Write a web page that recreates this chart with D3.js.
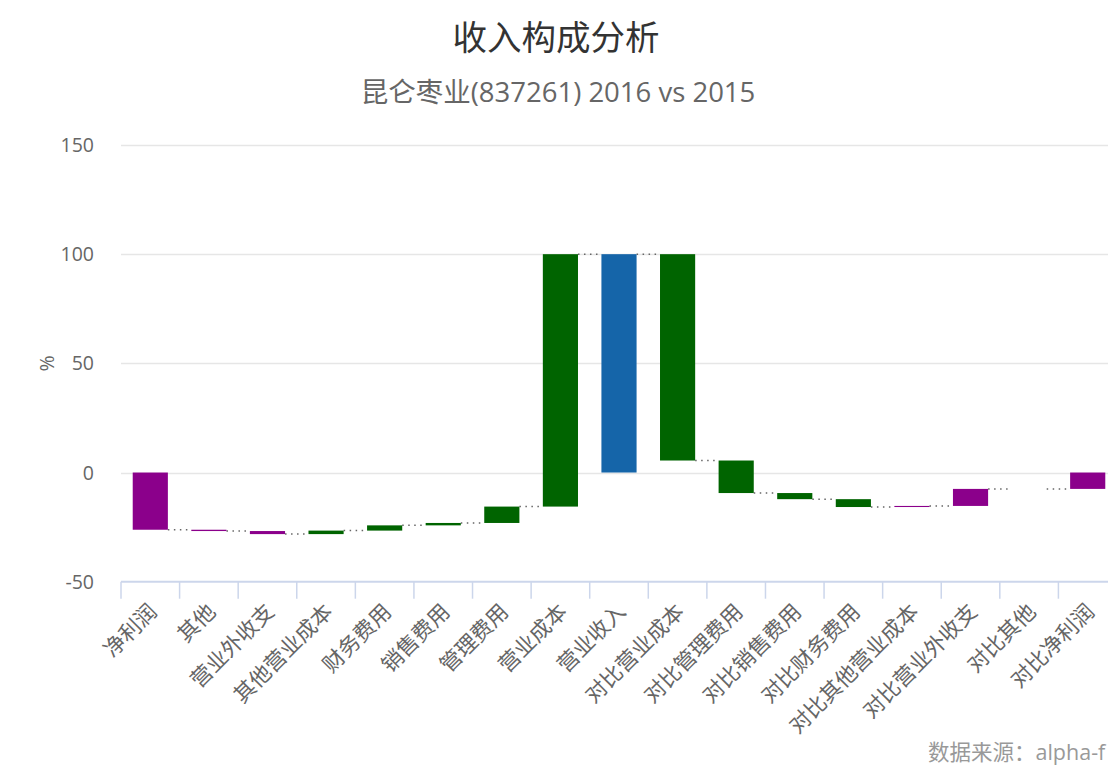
<!DOCTYPE html>
<html>
<head>
<meta charset="utf-8">
<script src="https://cdn.jsdelivr.net/npm/d3@7"></script>
<style>
  html, body { margin: 0; padding: 0; background: #fff; }
  svg { display: block; font-family: "Open Sans", "Noto Sans CJK SC", sans-serif; }
</style>
</head>
<body>
<svg id="chart" width="1108" height="766"></svg>
<script>
// ---- data ----
const titleText = "收入构成分析";
const subtitleText = "昆仑枣业(837261) 2016 vs 2015";
const creditText = "数据来源：alpha-f";
const yAxisTitle = "%";
const categories = ["净利润", "其他", "营业外收支", "其他营业成本", "财务费用", "销售费用", "管理费用", "营业成本", "营业收入",
  "对比营业成本", "对比管理费用", "对比销售费用", "对比财务费用", "对比其他营业成本", "对比营业外收支", "对比其他", "对比净利润"];
// waterfall steps (left to right); null = sum bar (drawn from 0 to running total)
const steps = [-26.2, -0.6, -1.4, 1.6, 2.4, 1.1, 7.5, 115.6, null,
  -94.5, -14.9, -2.8, -3.6, 0.5, 7.8, 0, null];
const kinds = ["profit", "profit", "profit", "cost", "cost", "cost", "cost", "cost", "revenue",
  "cost", "cost", "cost", "cost", "profit", "profit", "profit", "profit"];
const yTicks = [-50, 0, 50, 100, 150];

// ---- layout ----
const W = 1108, H = 766;
const plot = { left: 121, right: 1117, top: 145, bottom: 581.7 };
const kindColor = { profit: "#8b008b", cost: "#006400", revenue: "#1565a9" };

const svg = d3.select("#chart");

const x = d3.scaleBand().domain(categories).range([plot.left, plot.right])
  .paddingInner(0.4).paddingOuter(0.2);
const step = x.step();
const y = d3.scaleLinear().domain([-50, 150]).range([plot.bottom, plot.top]);

// compute waterfall
let cum = 0;
const bars = categories.map((c, i) => {
  const s = steps[i];
  let from, to;
  if (s === null) { from = 0; to = cum; }
  else { from = cum; to = cum + s; cum = to; }
  return { cat: c, from, to, level: cum, kind: kinds[i] };
});

// grid
svg.append("g").selectAll("line").data(yTicks.filter(t => t !== -50)).join("line")
  .attr("x1", plot.left).attr("x2", W)
  .attr("y1", d => Math.round(y(d)) + 0.5).attr("y2", d => Math.round(y(d)) + 0.5)
  .attr("stroke", "#e6e6e6").attr("stroke-width", 1.5);

// y labels
svg.append("g").selectAll("text").data(yTicks).join("text")
  .attr("x", 94).attr("y", d => y(d) + 7)
  .attr("text-anchor", "end").attr("font-size", 19.5).attr("fill", "#666")
  .text(d => d);

// y axis title
svg.append("text")
  .attr("transform", `translate(54, ${y(50)}) rotate(-90)`)
  .attr("text-anchor", "middle").attr("font-size", 19.5).attr("fill", "#666")
  .text(yAxisTitle);

// x axis line & ticks
svg.append("line").attr("x1", plot.left).attr("x2", W)
  .attr("y1", plot.bottom).attr("y2", plot.bottom)
  .attr("stroke", "#ccd6eb").attr("stroke-width", 2);
const boundaries = categories.map(c => x(c) - step * 0.2);
svg.append("g").selectAll("line").data(boundaries).join("line")
  .attr("x1", d => d).attr("x2", d => d)
  .attr("y1", plot.bottom).attr("y2", plot.bottom + 17)
  .attr("stroke", "#ccd6eb").attr("stroke-width", 1.5);

// connectors
const conn = bars.slice(0, -1).map((b, i) => ({ x1: x(b.cat) + x.bandwidth(), x2: x(categories[i + 1]), v: b.level }));
svg.append("g").selectAll("line").data(conn).join("line")
  .attr("x1", d => d.x1).attr("x2", d => d.x2)
  .attr("y1", d => y(d.v)).attr("y2", d => y(d.v))
  .attr("stroke", "#666").attr("stroke-width", 1.5).attr("stroke-dasharray", "1.5,4.5");

// bars
svg.append("g").selectAll("rect").data(bars).join("rect")
  .attr("x", d => x(d.cat)).attr("width", x.bandwidth())
  .attr("y", d => y(Math.max(d.from, d.to)))
  .attr("height", d => Math.abs(y(d.from) - y(d.to)))
  .attr("fill", d => kindColor[d.kind]);

// x labels
svg.append("g").selectAll("text").data(categories).join("text")
  .attr("transform", d => `translate(${x(d) + x.bandwidth() / 2 + 8}, 613) rotate(-45)`)
  .attr("text-anchor", "end").attr("font-size", 21.5).attr("fill", "#666")
  .text(d => d);

// title & subtitle
svg.append("text").attr("x", 556).attr("y", 50).attr("text-anchor", "middle")
  .attr("font-size", 34.5).attr("fill", "#333").text(titleText);
svg.append("text").attr("x", 558).attr("y", 102).attr("text-anchor", "middle")
  .attr("font-size", 27.5).attr("fill", "#666").text(subtitleText);

// credits
svg.append("text").attr("x", 928).attr("y", 760).attr("text-anchor", "start")
  .attr("font-size", 21.5).attr("fill", "#999").text(creditText);
</script>
</body>
</html>
